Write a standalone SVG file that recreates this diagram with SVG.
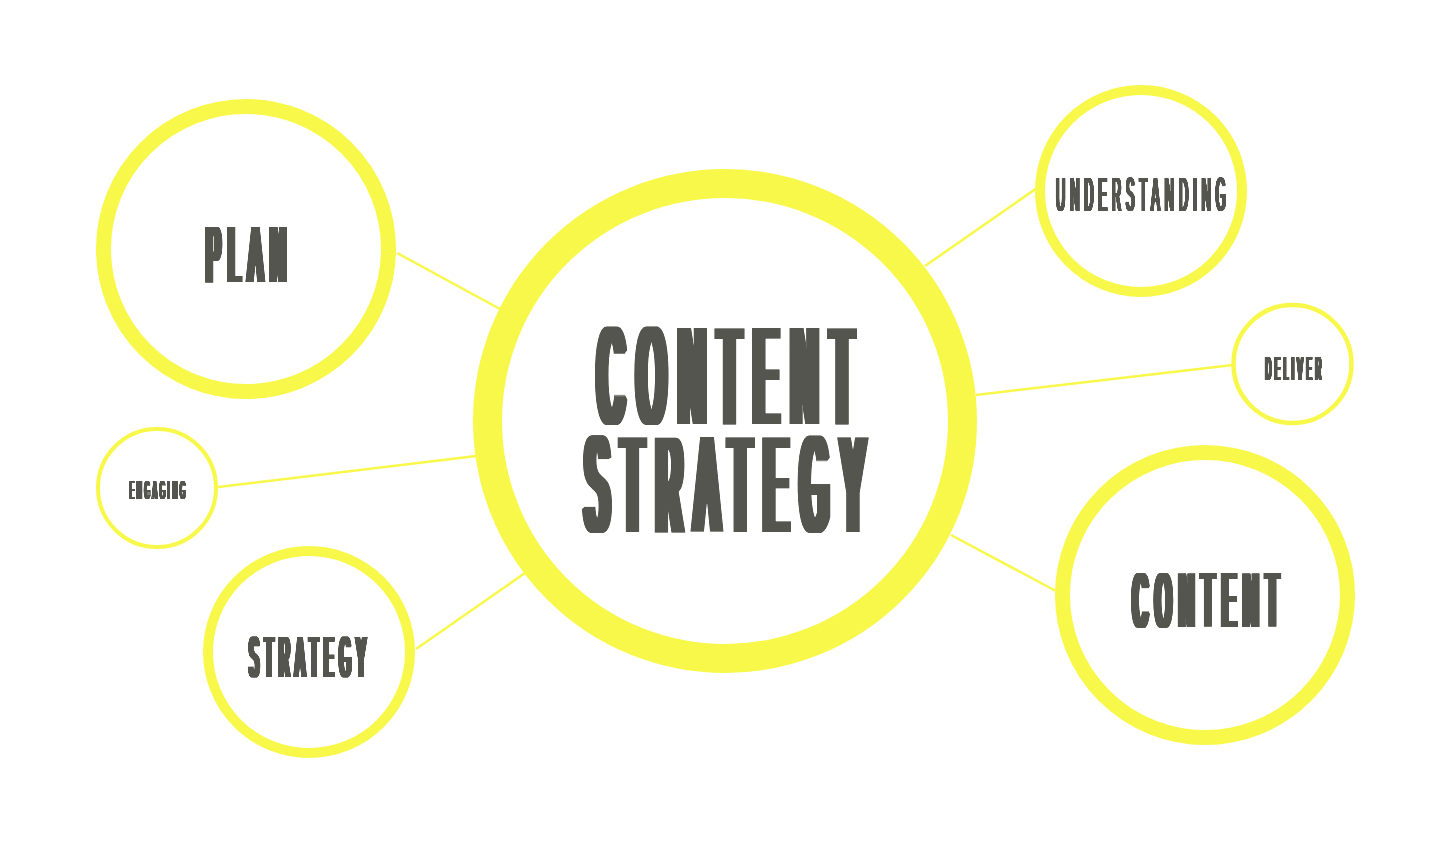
<svg xmlns="http://www.w3.org/2000/svg" width="1447" height="868" viewBox="0 0 1447 868">
<style>
.ring{fill:#ffffff;stroke:#f8f84a}
.link{stroke:#f8f84a;stroke-width:2.5;fill:none}
.lbl{font-family:"Liberation Sans",Arial,sans-serif;font-weight:normal;fill:#55554f;letter-spacing:0.4em}
</style>
<defs>
<filter id="w5" x="-10%" y="-10%" width="120%" height="120%"><feComponentTransfer><feFuncA type="linear" slope="1.3"/></feComponentTransfer><feMorphology operator="dilate" radius="5 0"/></filter>
<filter id="w3" x="-10%" y="-10%" width="120%" height="120%"><feComponentTransfer><feFuncA type="linear" slope="1.6"/></feComponentTransfer><feMorphology operator="dilate" radius="3 0"/></filter>
<filter id="w2" x="-10%" y="-10%" width="120%" height="120%"><feComponentTransfer><feFuncA type="linear" slope="2"/></feComponentTransfer><feMorphology operator="dilate" radius="2 0"/></filter>
<filter id="w1" x="-10%" y="-10%" width="120%" height="120%"><feComponentTransfer><feFuncA type="linear" slope="2.5"/></feComponentTransfer><feMorphology operator="dilate" radius="1 0"/></filter>
</defs>
<rect width="1447" height="868" fill="#ffffff"/>
<g id="connectors">
<line class="link" x1="397" y1="253" x2="500" y2="309"/>
<line class="link" x1="218" y1="487" x2="476" y2="456"/>
<line class="link" x1="416" y1="649" x2="525" y2="573"/>
<line class="link" x1="925" y1="266" x2="1037" y2="188"/>
<line class="link" x1="976" y1="395" x2="1233" y2="365"/>
<line class="link" x1="951" y1="535" x2="1056" y2="591"/>
</g>
<g id="node-center">
<circle class="ring" cx="725" cy="421" r="237.5" stroke-width="29"/>
<g filter="url(#w5)">
<text class="lbl" transform="matrix(0.2545,0,0,1,598.2,424)" font-size="138.3">CONTENT</text>
<text class="lbl" transform="matrix(0.2513,0,0,1,585.4,532)" font-size="136.9">STRATEGY</text>
</g>
</g>
<g id="node-plan">
<circle class="ring" cx="246" cy="249" r="142.5" stroke-width="15"/>
<g filter="url(#w3)"><text class="lbl" transform="matrix(0.2611,0,0,1,206.4,282)" font-size="79.6">PLAN</text></g>
</g>
<g id="node-engaging">
<circle class="ring" cx="157" cy="488" r="59" stroke-width="4"/>
<g filter="url(#w1)"><text class="lbl" transform="matrix(0.2575,0,0,1,129.5,499)" font-size="26.5">ENGAGING</text></g>
</g>
<g id="node-strategy">
<circle class="ring" cx="309" cy="652" r="101" stroke-width="10"/>
<g filter="url(#w2)"><text class="lbl" transform="matrix(0.2509,0,0,1,249.3,677)" font-size="57.3">STRATEGY</text></g>
</g>
<g id="node-understanding">
<circle class="ring" cx="1141" cy="191" r="101" stroke-width="10"/>
<g filter="url(#w1)"><text class="lbl" transform="matrix(0.2656,0,0,1,1056,211)" font-size="47.5">UNDERSTANDING</text></g>
</g>
<g id="node-deliver">
<circle class="ring" cx="1292.5" cy="364" r="59" stroke-width="4.5"/>
<g filter="url(#w1)"><text class="lbl" transform="matrix(0.2502,0,0,1,1265.3,380)" font-size="33.5">DELIVER</text></g>
</g>
<g id="node-content">
<circle class="ring" cx="1205" cy="595" r="142.5" stroke-width="15"/>
<g filter="url(#w3)"><text class="lbl" transform="matrix(0.2572,0,0,1,1133,627)" font-size="78.2">CONTENT</text></g>
</g>
</svg>
